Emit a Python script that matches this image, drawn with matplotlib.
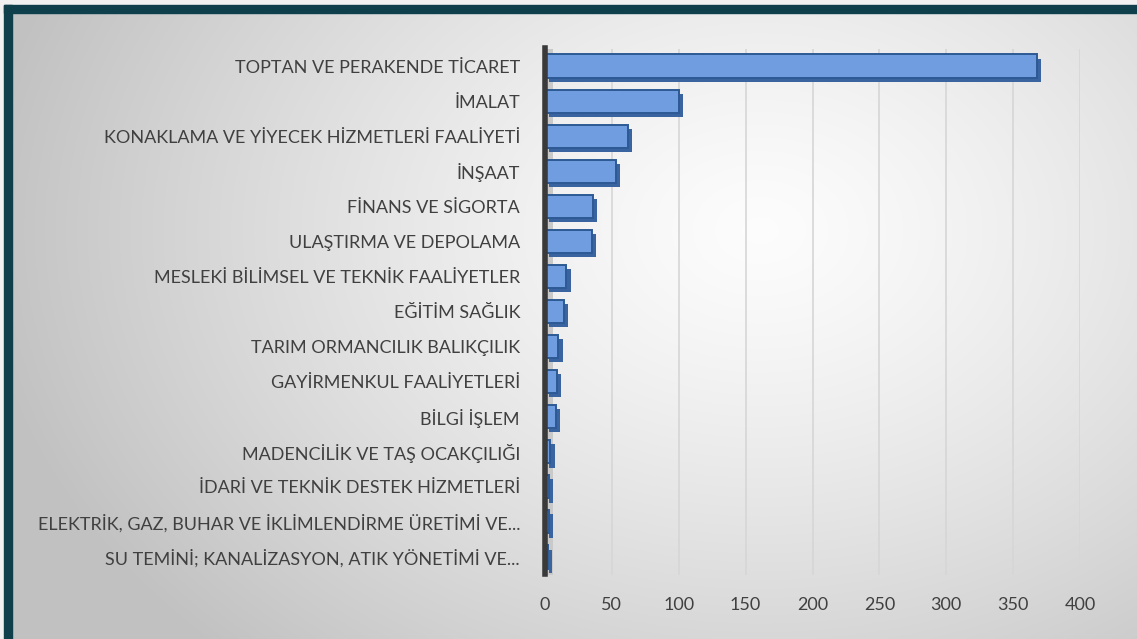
import numpy as np
import matplotlib
matplotlib.use("Agg")
import matplotlib.pyplot as plt
from matplotlib.patches import Rectangle
import matplotlib.patheffects as pe

categories = [
    "TOPTAN VE PERAKENDE TİCARET",
    "İMALAT",
    "KONAKLAMA VE YİYECEK HİZMETLERİ FAALİYETİ",
    "İNŞAAT",
    "FİNANS VE SİGORTA",
    "ULAŞTIRMA VE DEPOLAMA",
    "MESLEKİ BİLİMSEL VE TEKNİK FAALİYETLER",
    "EĞİTİM SAĞLIK",
    "TARIM ORMANCILIK BALIKÇILIK",
    "GAYİRMENKUL FAALİYETLERİ",
    "BİLGİ İŞLEM",
    "MADENCİLİK VE TAŞ OCAKÇILIĞI",
    "İDARİ VE TEKNİK DESTEK HİZMETLERİ",
    "ELEKTRİK, GAZ, BUHAR VE İKLİMLENDİRME ÜRETİMİ VE...",
    "SU TEMİNİ; KANALİZASYON, ATIK YÖNETİMİ VE...",
]
values = [368, 100, 62, 53, 36, 35, 16, 14, 10, 9, 8, 4, 3, 3, 2]
xticks = [0, 50, 100, 150, 200, 250, 300, 350, 400]

W, H = 1137, 639
fig = plt.figure(figsize=(W / 100, H / 100), dpi=100)

# background gradient
bg = fig.add_axes([0, 0, 1, 1], zorder=-5)
yy, xx = np.mgrid[0:H, 0:W]
d = np.sqrt(((xx - 760) / 700.0) ** 2 + ((yy - 230) / 520.0) ** 2)
val = np.clip(0.99 - 0.2 * d ** 1.3, 0.76, 0.99)
img = np.dstack([val, val, val])
bg.imshow(img, extent=[0, W, H, 0], aspect="auto", interpolation="bilinear")
bg.set_xlim(0, W)
bg.set_ylim(H, 0)
bg.axis("off")
# outer margin and teal border
bg.add_patch(Rectangle((0, 0), W, 5, color="#f1f1f1", zorder=3))
bg.add_patch(Rectangle((0, 0), 4, H, color="#f1f1f1", zorder=3))
bg.add_patch(Rectangle((4, 5), W, 7.5, color="#0f3f4b", zorder=4))
bg.add_patch(Rectangle((4, 5), 7.5, H, color="#0f3f4b", zorder=4))

left, right, top, bottom = 545, 1080, 48.5, 574.5
ax = fig.add_axes([left / W, (H - bottom) / H, (right - left) / W, (bottom - top) / H])
ax.set_facecolor("none")

y = np.arange(len(categories))
bars = ax.barh(y, values, height=0.66, color="#6f9ddf", edgecolor="#2d5a94",
               linewidth=1.4, zorder=3)
for b in bars:
    b.set_path_effects([pe.SimplePatchShadow(offset=(3, -3), shadow_rgbFace="#3a64a0", alpha=1.0),
                        pe.Normal()])

ax.set_xlim(0, 400)
ax.set_ylim(len(categories) - 0.5, -0.5)
ax.set_xticks(xticks)
ax.set_xticklabels([str(t) for t in xticks])
ax.set_yticks(y)
ax.set_yticklabels(categories)
ax.axvspan(0, 6, color="#c9c9c9", zorder=1, lw=0)
ax.grid(axis="x", color="#d6d6d6", linewidth=1.2, zorder=0)
ax.grid(axis="y", visible=False)
for s in ["top", "right", "bottom"]:
    ax.spines[s].set_visible(False)
ax.spines["left"].set_color("#3a3a3a")
ax.spines["left"].set_linewidth(4)
ax.spines["left"].set_zorder(4)
ax.tick_params(axis="both", length=0)
ax.tick_params(axis="y", pad=18, labelsize=13, labelcolor="#404040")
ax.tick_params(axis="x", pad=16, labelsize=13, labelcolor="#404040")
for lab in ax.get_yticklabels() + ax.get_xticklabels():
    lab.set_fontfamily("Lato")

fig.savefig("out.png", dpi=100)
